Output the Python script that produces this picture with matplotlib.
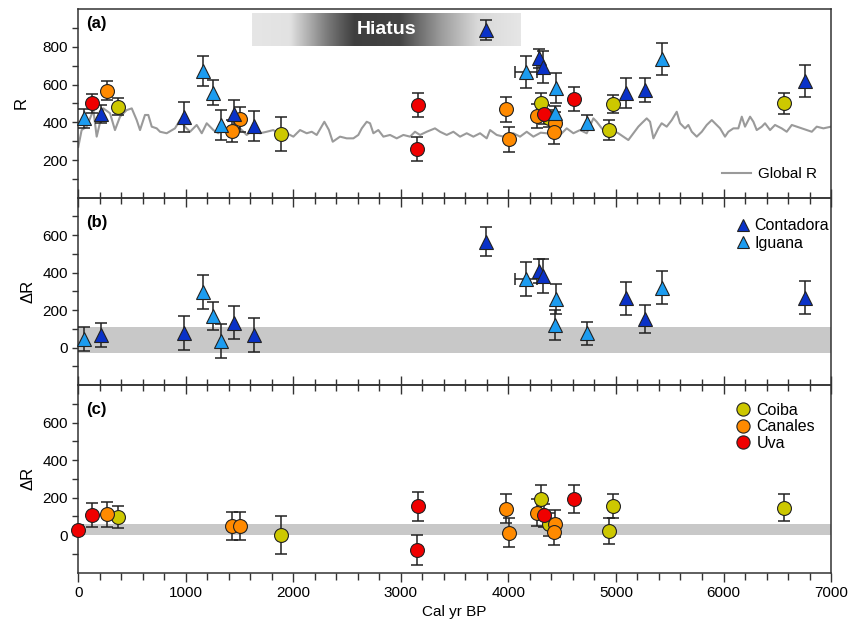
import numpy as np
import matplotlib
matplotlib.use('Agg')
import matplotlib.pyplot as plt
from matplotlib.colors import LinearSegmentedColormap
from matplotlib.lines import Line2D
from matplotlib.ticker import MultipleLocator, FixedLocator

plt.rcParams['font.family'] = ['Liberation Sans', 'DejaVu Sans']
plt.rcParams['font.size'] = 11

# ---------------- data ----------------
# Global R curve (Cal yr BP, R)
global_yr = [0, 31, 78, 140, 171, 233, 295, 341, 388, 450, 497, 543, 574, 620, 651, 683,
             729, 760, 822, 899, 946, 992, 1039, 1101, 1148, 1194, 1256, 1302, 1349, 1395,
             1442, 1504, 1566, 1628, 1690, 1752, 1814, 1876, 1938, 2000, 2062, 2124, 2171,
             2217, 2288, 2330, 2366, 2434, 2496, 2558, 2604, 2636, 2682, 2713, 2744, 2790,
             2837, 2899, 2961, 3023, 3085, 3131, 3178, 3240, 3317, 3364, 3426, 3488, 3550,
             3612, 3674, 3736, 3798, 3829, 3891, 3953, 4046, 4108, 4170, 4232, 4300, 4356,
             4420, 4480, 4542, 4604, 4666, 4728, 4790, 4821, 4868, 4914, 4976, 5022, 5069,
             5115, 5162, 5208, 5239, 5286, 5317, 5348, 5394, 5425, 5472, 5519, 5565, 5596,
             5642, 5673, 5705, 5751, 5798, 5844, 5891, 5921, 5968, 6014, 6045, 6092, 6138,
             6170, 6200, 6247, 6278, 6309, 6356, 6386, 6433, 6479, 6541, 6588, 6635, 6681,
             6728, 6774, 6821, 6867, 6929, 7000]
global_R = [270, 359, 377, 465, 324, 474, 448, 359, 430, 465, 474, 412, 359, 439, 439, 377,
            368, 350, 342, 368, 412, 377, 350, 386, 342, 395, 359, 342, 377, 333,
            359, 368, 333, 359, 342, 350, 359, 333, 342, 324, 359, 342, 350,
            333, 403, 360, 297, 324, 315, 315, 333, 368, 403, 395, 342, 359,
            324, 333, 315, 333, 324, 350, 333, 350, 368, 350, 333, 350, 324,
            342, 324, 342, 315, 359, 333, 324, 342, 324, 350, 324, 345, 342,
            330, 333, 368, 342, 359, 342, 421, 403, 368, 342, 355, 342, 324,
            306, 342, 377, 395, 421, 403, 315, 368, 395, 377, 412, 456, 395,
            368, 386, 350, 324, 350, 386, 412, 395, 368, 324, 350, 368, 368,
            430, 377, 430, 403, 359, 377, 395, 359, 386, 368, 350, 386, 377,
            368, 359, 350, 377, 368, 377]

# Panel (a) R and panel (b)/(c) Delta R values
cont_yr = [211, 983, 1445, 1634, 3792, 4288, 4325, 5093, 5270, 6758]
cont_R = [444, 427, 444, 380, 890, 739, 695, 554, 571, 621]
cont_R_err = [50, 80, 75, 80, 55, 50, 85, 80, 62, 85]
cont_dR = [67, 76, 133, 67, 566, 408, 382, 262, 150, 267]
cont_dR_err = [65, 90, 90, 90, 75, 63, 90, 90, 75, 90]

igu_yr = [53, 1157, 1250, 1327, 4164, 4433, 4440, 4728, 5425]
igu_R = [421, 672, 557, 384, 669, 448, 580, 398, 734]
igu_R_err = [50, 80, 65, 80, 85, 40, 80, 40, 85]
igu_dR = [45, 297, 168, 36, 364, 120, 257, 76, 320]
igu_dR_err = [65, 90, 75, 90, 90, 80, 80, 60, 90]
igu_xerr_yr = [4164]
igu_xerr = [100]

coiba_yr = [369, 1885, 4306, 4378, 4938, 4970, 6566]
coiba_R = [483, 338, 504, 421, 359, 499, 501]
coiba_R_err = [45, 90, 50, 45, 53, 47, 57]
coiba_dR = [97, 0, 190, 58, 23, 157, 146]
coiba_dR_err = [60, 100, 75, 60, 70, 64, 72]

can_yr = [270, 1426, 1507, 3981, 4009, 4263, 4430, 4420]
can_R = [568, 354, 416, 469, 310, 433, 395, 350]
can_R_err = [50, 60, 65, 65, 65, 65, 60, 65]
can_dR = [111, 48, 48, 141, 12, 120, 62, 16]
can_dR_err = [65, 75, 75, 78, 77, 70, 70, 70]

uva_R_yr = [124, 3150, 3163, 4334, 4613]
uva_R = [501, 258, 492, 442, 524]
uva_R_err = [50, 65, 65, 50, 62]
uva_dR_yr = [0, 124, 3150, 3163, 4334, 4613]
uva_dR = [30, 106, -79, 153, 106, 194]
uva_dR_err = [25, 65, 80, 77, 60, 75]

band_b = (-30, 108)
band_c = (0, 60)
hiatus = (1616, 4109, 805, 980)

# ---------------- styles ----------------
C_CONT = '#0a32c8'
C_IGU = '#1c9cf0'
C_COIBA = '#cdc800'
C_CAN = '#ff8a00'
C_UVA = '#f00000'
EC = '#222222'
SP = '#333333'

fig = plt.figure(figsize=(8.52, 6.27), dpi=100)
L, Rt = 0.0919, 0.9754
axa = fig.add_axes([L, 0.6847, Rt - L, 0.9852 - 0.6847])
axb = fig.add_axes([L, 0.386, Rt - L, 0.6847 - 0.386])
axc = fig.add_axes([L, 0.0866, Rt - L, 0.386 - 0.0866])


def site(ax, x, y, e, color, marker, ms):
    ax.errorbar(x, y, yerr=e, fmt='none', ecolor=EC, elinewidth=1.1,
                capsize=4, capthick=1.1, zorder=3)
    ax.plot(x, y, ls='none', marker=marker, ms=ms, mfc=color, mec=EC,
            mew=0.8, zorder=4, clip_on=False)


# panel a
cmap = LinearSegmentedColormap.from_list('hiatus', [
    (0.0, '#e6e6e6'), (0.14, '#e2e2e2'), (0.28, '#7a7a7a'), (0.38, '#3e3e3e'),
    (0.55, '#444444'), (0.70, '#9a9a9a'), (0.84, '#d9d9d9'), (1.0, '#e6e6e6')])
grad = np.linspace(0, 1, 256).reshape(1, -1)
axa.imshow(grad, cmap=cmap, extent=[hiatus[0], hiatus[1], hiatus[2], hiatus[3]],
           aspect='auto', zorder=1)
axa.text((hiatus[0] + hiatus[1]) / 2, (hiatus[2] + hiatus[3]) / 2, 'Hiatus',
         color='white', fontweight='bold', fontsize=14, ha='center', va='center', zorder=2)
axa.plot(global_yr, global_R, color='#9a9a9a', lw=1.5, zorder=2)

site(axa, coiba_yr, coiba_R, coiba_R_err, C_COIBA, 'o', 10)
site(axa, can_yr, can_R, can_R_err, C_CAN, 'o', 10)
site(axa, uva_R_yr, uva_R, uva_R_err, C_UVA, 'o', 10)
axa.errorbar(igu_xerr_yr, [igu_R[igu_yr.index(v)] for v in igu_xerr_yr], xerr=igu_xerr,
             fmt='none', ecolor=EC, elinewidth=1.1, capsize=4, capthick=1.1, zorder=3)
site(axa, igu_yr, igu_R, igu_R_err, C_IGU, '^', 10.5)
site(axa, cont_yr, cont_R, cont_R_err, C_CONT, '^', 10.5)

axa.set_ylim(0, 1000)
axa.yaxis.set_major_locator(FixedLocator([200, 400, 600, 800]))
axa.yaxis.set_minor_locator(FixedLocator([100, 300, 500, 700, 900]))
axa.set_ylabel('R', labelpad=10, fontsize=12)
axa.legend([Line2D([], [], color='#9a9a9a', lw=1.5)], ['Global R'], loc='lower right',
           frameon=False, handlelength=1.9, handletextpad=0.5, borderaxespad=0.0,
           fontsize=11, bbox_to_anchor=(0.99, 0.055))
axa.text(0.011, 0.925, '(a)', transform=axa.transAxes, fontweight='bold', fontsize=12,
         va='center', ha='left')

# panel b
axb.axhspan(band_b[0], band_b[1], color='#c8c8c8', lw=0, zorder=1)
axb.errorbar(igu_xerr_yr, [igu_dR[igu_yr.index(v)] for v in igu_xerr_yr], xerr=igu_xerr,
             fmt='none', ecolor=EC, elinewidth=1.1, capsize=4, capthick=1.1, zorder=3)
site(axb, igu_yr, igu_dR, igu_dR_err, C_IGU, '^', 10.5)
site(axb, cont_yr, cont_dR, cont_dR_err, C_CONT, '^', 10.5)
axb.set_ylim(-200, 800)
axb.yaxis.set_major_locator(FixedLocator([0, 200, 400, 600]))
axb.yaxis.set_minor_locator(FixedLocator([-100, 100, 300, 500, 700]))
axb.set_ylabel('ΔR', labelpad=5, fontsize=12)
hb = [Line2D([], [], ls='none', marker='^', ms=9, mfc=C_CONT, mec=EC, mew=0.8),
      Line2D([], [], ls='none', marker='^', ms=9, mfc=C_IGU, mec=EC, mew=0.8)]
axb.legend(hb, ['Contadora', 'Iguana'], loc='upper right', frameon=False,
           handlelength=0.9, handletextpad=0.25, labelspacing=0.15,
           borderaxespad=0.3, fontsize=11.5, bbox_to_anchor=(1.012, 0.95))
axb.text(0.011, 0.87, '(b)', transform=axb.transAxes, fontweight='bold', fontsize=12,
         va='center', ha='left')

# panel c
axc.axhspan(band_c[0], band_c[1], color='#c8c8c8', lw=0, zorder=1)
site(axc, coiba_yr, coiba_dR, coiba_dR_err, C_COIBA, 'o', 10)
site(axc, can_yr, can_dR, can_dR_err, C_CAN, 'o', 10)
site(axc, uva_dR_yr, uva_dR, uva_dR_err, C_UVA, 'o', 10)
axc.set_ylim(-200, 800)
axc.yaxis.set_major_locator(FixedLocator([0, 200, 400, 600]))
axc.yaxis.set_minor_locator(FixedLocator([-100, 100, 300, 500, 700]))
axc.set_ylabel('ΔR', labelpad=5, fontsize=12)
axc.set_xlabel('Cal yr BP', labelpad=4)
hc = [Line2D([], [], ls='none', marker='o', ms=9.5, mfc=c, mec=EC, mew=0.8)
      for c in (C_COIBA, C_CAN, C_UVA)]
axc.legend(hc, ['Coiba', 'Canales', 'Uva'], loc='upper right', frameon=False,
           handlelength=0.9, handletextpad=0.4, labelspacing=0.1,
           borderaxespad=0.3, fontsize=11.5, bbox_to_anchor=(0.994, 0.965))
axc.text(0.011, 0.87, '(c)', transform=axc.transAxes, fontweight='bold', fontsize=12,
         va='center', ha='left')

for ax in (axa, axb, axc):
    ax.set_xlim(0, 7000)
    ax.xaxis.set_major_locator(MultipleLocator(1000))
    ax.xaxis.set_minor_locator(MultipleLocator(200))
    for s in ax.spines.values():
        s.set_color(SP)
        s.set_linewidth(1.1)
    ax.tick_params(axis='y', which='both', direction='out', length=4.5, width=1.0,
                   color=SP, labelsize=11, pad=3)
    ax.tick_params(axis='x', which='both', color=SP, width=1.0, labelsize=11)
    ax.set_facecolor('none')

for ax in (axa, axb):
    ax.tick_params(axis='x', which='major', direction='inout', length=13, labelbottom=False)
    ax.tick_params(axis='x', which='minor', direction='inout', length=8)
axc.tick_params(axis='x', which='major', direction='out', length=6.5, pad=3)
axc.tick_params(axis='x', which='minor', direction='out', length=4.8)

fig.savefig('out.png', dpi=100)
